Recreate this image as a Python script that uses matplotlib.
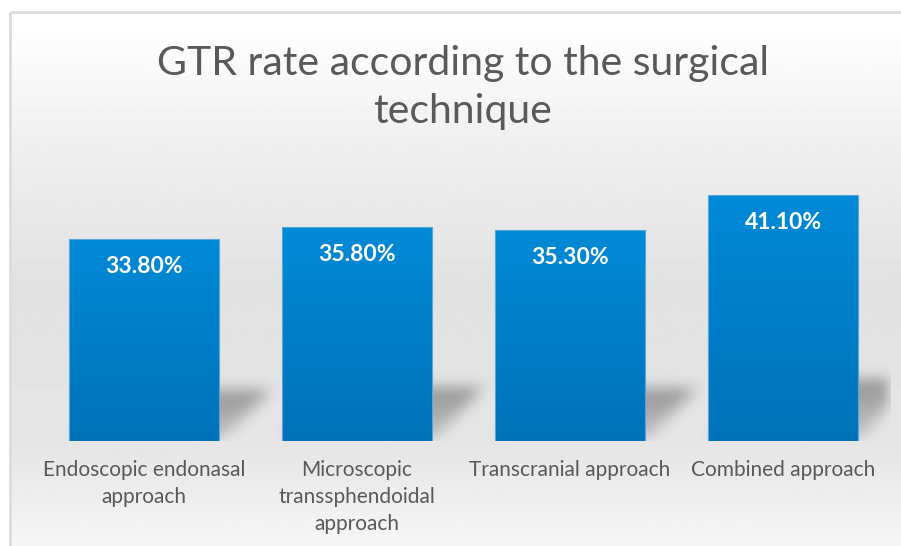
import numpy as np
import matplotlib
matplotlib.use("Agg")
import matplotlib.pyplot as plt
from matplotlib.colors import LinearSegmentedColormap
from matplotlib.patches import Rectangle

# data
categories = ["Endoscopic endonasal\napproach",
              "Microscopic\ntranssphendoidal\napproach",
              "Transcranial approach",
              "Combined approach"]
gtr_rate = [33.8, 35.8, 35.3, 41.1]
title_lines = ["GTR rate according to the surgical", "technique"]

plt.rcParams["font.family"] = ["Lato", "DejaVu Sans"]
text_grey = "#595959"

fig = plt.figure(figsize=(9.01, 5.46), dpi=100)

# background: framed panel with a soft vertical grey gradient
bg = fig.add_axes([0, 0, 1, 1], zorder=-10)
bg.set_xlim(0, 901)
bg.set_ylim(546, 0)
bg.axis("off")
stops = [(0, 1.0), (12, 1.0), (130, 0.94), (280, 0.885), (445, 0.9), (546, 0.965)]
ys = np.arange(546)
shade = np.interp(ys, [s[0] for s in stops], [s[1] for s in stops])
grad = np.repeat(shade[:, None], 2, axis=1)
bg.imshow(grad, cmap="gray", vmin=0, vmax=1, extent=(10, 901, 546, 12),
          aspect="auto", interpolation="bilinear")
bg.plot([10, 10], [546, 12], color="#dcdcdc", lw=2, solid_capstyle="butt")
bg.plot([10, 901], [12, 12], color="#dcdcdc", lw=2, solid_capstyle="butt")

ax = fig.add_axes([37.5 / 901, 105 / 546, 852 / 901, 299 / 546])
ax.set_xlim(-0.5, 3.5)
ax.set_ylim(0, 50)
ax.patch.set_alpha(0)
for sp in ax.spines.values():
    sp.set_visible(False)
ax.set_yticks([])

x = np.arange(len(categories))
width = 0.70

# perspective shadows behind the bars
nx, ny = 852, 160
gx = np.linspace(-0.5, 3.5, nx)
gy = np.linspace(0, 160 / 5.98, ny)
X, Y = np.meshgrid(gx, gy)
mask = np.zeros_like(X)
for xi, h in zip(x, gtr_rate):
    sh = 0.25 * h
    dx = 0.24
    t = np.clip(Y / sh, 0, None)
    inside = (Y <= sh) & (X >= xi - width / 2 + t * dx) & (X <= xi + width / 2 + t * dx)
    mask = np.maximum(mask, inside * (0.4 + 0.6 * t))


def box_blur(a, k, axis):
    ker = np.ones(k) / k
    return np.apply_along_axis(lambda m: np.convolve(m, ker, mode="same"), axis, a)


for _ in range(3):
    mask = box_blur(mask, 15, 1)
    mask = box_blur(mask, 13, 0)
shadow = np.zeros((ny, nx, 4))
shadow[..., :3] = 0.2
shadow[..., 3] = mask * 0.45
ax.imshow(shadow, extent=(-0.5, 3.5, 0, gy[-1]), origin="lower",
          aspect="auto", zorder=1, interpolation="bilinear")

# gradient-filled bars
bar_cmap = LinearSegmentedColormap.from_list("bar", ["#0072b9", "#008ad7"])
bars = ax.bar(x, gtr_rate, width=width, color="none", edgecolor="#55a8de",
              linewidth=0.8, zorder=3)
for b in bars:
    x0, y0 = b.get_x(), b.get_y()
    w, h = b.get_width(), b.get_height()
    im = ax.imshow(np.linspace(0, 1, 256)[:, None], cmap=bar_cmap,
                   extent=(x0, x0 + w, y0, y0 + h), origin="lower",
                   aspect="auto", zorder=2)
    clip = Rectangle((x0, y0), w, h, transform=ax.transData)
    im.set_clip_path(clip)

for xi, v in zip(x, gtr_rate):
    ax.annotate(f"{v:.2f}%", (xi, v), xytext=(0, -20), textcoords="offset points",
                ha="center", va="center", color="white", fontsize=16.5,
                fontweight="bold", zorder=4)

ax.set_xlim(-0.5, 3.5)
ax.set_ylim(0, 50)
ax.set_xticks(x)
ax.set_xticklabels(categories, color=text_grey, fontsize=15, linespacing=1.42)
ax.tick_params(axis="x", length=0, pad=14)

for i, line in enumerate(title_lines):
    fig.text(463 / 901, 1 - (75 + 48 * i) / 546, line, ha="center", va="baseline",
             fontsize=29.5, color=text_grey)

fig.savefig("out.png", dpi=100)
